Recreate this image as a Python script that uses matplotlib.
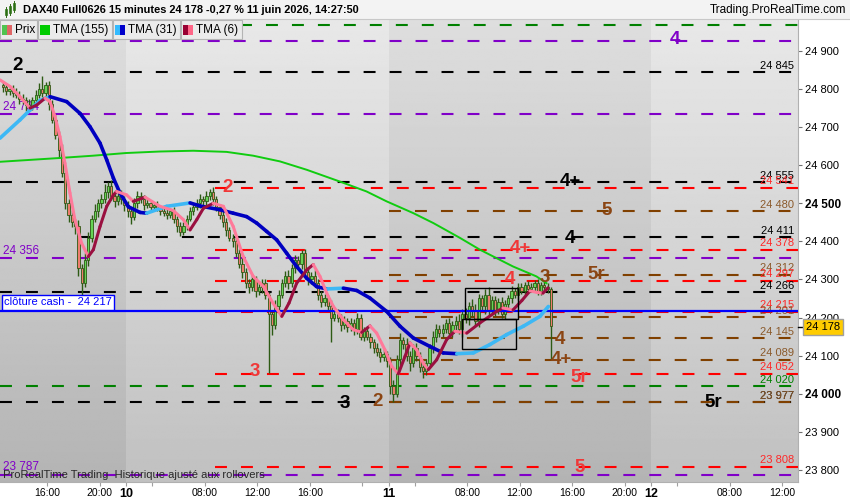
import numpy as np
import matplotlib
matplotlib.use('Agg')
import matplotlib.pyplot as plt
from matplotlib.patches import Rectangle
from matplotlib.collections import LineCollection

plt.rcParams['font.family'] = ['Liberation Sans', 'DejaVu Sans']
plt.rcParams['lines.scale_dashes'] = False

# session time in hours: 0 = 10 juin 02:00, one session = 02:00-22:00 (20 h)
first_bar = -9.5      # 9 juin 12:30
first_open = 24810

# 15 minute closes
closes = [
    24805, 24795,                                   # 9 juin 12:30
    24800, 24790, 24785, 24775,  24770, 24758, 24755, 24770,
    24785, 24800, 24790, 24810,  24760, 24720, 24680, 24640,
    24580, 24500, 24470, 24450,  24440, 24330, 24290, 24350,
    24410, 24460, 24480, 24500,  24510, 24530, 24545, 24520,
    24505, 24520, 24510, 24495,
    # 10 juin
    24480, 24465, 24500, 24520,  24510, 24495, 24500, 24490,
    24495, 24485, 24480, 24475,  24470, 24480, 24460, 24440,
    24425, 24440, 24460, 24480,  24490, 24500, 24510, 24505,
    24520, 24530, 24510, 24490,  24470, 24450, 24430, 24410,
    24400, 24370, 24340, 24320,  24290, 24280, 24300, 24270,
    24280, 24290, 24260, 24210,  24180, 24230, 24260, 24290,
    24310, 24290, 24330, 24350,  24340, 24370, 24320, 24300,
    24310, 24290, 24260, 24240,  24250, 24230, 24200, 24210,
    24200, 24180, 24190, 24175,  24185, 24170, 24200, 24150,
    24165, 24150, 24135, 24120,  24110, 24095, 24105, 24085,
    # 11 juin
    24020, 24000, 24090, 24140,  24130, 24100, 24080, 24120,
    24100, 24070, 24060, 24080,  24120, 24150, 24170, 24160,
    24170, 24185, 24160, 24180,  24190, 24170, 24210, 24200,
    24230, 24220, 24190, 24250,  24230, 24260, 24220, 24245,
    24220, 24240, 24210, 24235,  24250, 24270, 24260, 24280,
    24270, 24285, 24275, 24280,  24290, 24270, 24285, 24280,
    24275, 24178,
]
wick_hi = [
    10, 12,
    8, 10, 12, 10,  12, 10, 15, 10,  12, 15, 35, 8,  10, 12, 15, 10,
    15, 20, 10, 12,  10, 15, 10, 20,  15, 10, 18, 12,  15, 20, 12, 15,
    10, 12, 15, 10,
    12, 10, 15, 12,  10, 12, 10, 8,  8, 10, 6, 8,  10, 8, 10, 6,
    10, 12, 8, 10,  10, 12, 15, 10,  12, 8, 12, 10,  8, 10, 12, 8,
    10, 12, 10, 15,  10, 12, 15, 10,  15, 10, 12, 8,  10, 15, 12, 10,
    12, 15, 10, 15,  12, 8, 10, 12,  10, 15, 12, 10,  12, 10, 15, 10,
    12, 10, 15, 8,  15, 10, 12, 10,  10, 12, 10, 8,  12, 10, 15, 8,
    10, 15, 12, 20,  10, 15, 12, 10,  12, 10, 15, 12,  10, 15, 12, 10,
    12, 10, 15, 12,  15, 20, 12, 15,  12, 18, 15, 12,  10, 15, 20, 12,
    12, 10, 15, 10,  10, 12, 8, 10,  10, 8, 12, 10,  8, 10, 8, 12,
    10, 5,
]
wick_lo = [
    12, 10,
    10, 12, 8, 15,  10, 15, 12, 10,  10, 8, 12, 10,  15, 10, 12, 20,
    10, 15, 20, 12,  20, 20, 30, 10,  15, 12, 10, 15,  12, 10, 15, 12,
    15, 10, 12, 15,
    15, 20, 10, 12,  10, 12, 8, 10,  8, 6, 10, 8,  10, 8, 12, 15,
    12, 8, 10, 6,  10, 8, 12, 10,  10, 12, 15, 10,  10, 12, 15, 10,
    15, 12, 10, 15,  12, 15, 10, 15,  10, 15, 12, 155,  25, 10, 12, 8,
    10, 15, 10, 12,  10, 12, 10, 15,  12, 10, 15, 12,  10, 12, 64, 10,
    12, 15, 10, 12,  10, 15, 12, 10,  12, 10, 15, 12,  10, 12, 10, 15,
    20, 23, 10, 15,  12, 15, 20, 10,  15, 12, 20, 10,  10, 12, 15, 10,
    12, 10, 15, 12,  15, 12, 20, 15,  20, 15, 12, 15,  12, 20, 15, 10,
    15, 10, 12, 15,  10, 12, 10, 15,  8, 12, 10, 8,  10, 12, 10, 8,
    10, 88,
]

# triangular moving averages
tma155_t = [-9.6, -7.31, -5.03, -2.51, 0.0, 2.59, 5.13, 7.66, 9.69, 11.73, 13.77, 16.3,
            18.33, 19.86, 21.9, 23.42, 25.45, 26.97, 29.49, 31.27, 32.04]
tma155_v = [24609, 24614, 24619, 24625, 24632, 24636, 24638, 24635, 24625, 24610, 24588, 24557,
            24531, 24505, 24474, 24448, 24409, 24378, 24334, 24308, 24290]

tma31_t = [-9.6, -8.08, -7.31, -6.55, -5.79, -4.52, -3.5, -2.74, -1.98, -1.47, -0.96, -0.46,
           0.18, 1.07, 1.57, 3.1, 4.88, 5.64, 7.16, 8.17, 9.19, 9.96, 10.72, 11.48, 12.24,
           13.0, 13.77, 14.53, 15.29, 16.56, 17.58, 18.59, 19.86, 20.88, 21.9, 23.16, 24.17,
           25.2, 26.46, 27.73, 29.0, 30.27, 31.54, 32.18]
tma31_v = [24671, 24719, 24745, 24770, 24780, 24767, 24736, 24701, 24658, 24614, 24566, 24527,
           24491, 24476, 24474, 24492, 24501, 24493, 24483, 24474, 24465, 24448, 24426, 24404, 24369,
           24334, 24303, 24281, 24275, 24277, 24271, 24251, 24216, 24177, 24146, 24124, 24107,
           24105, 24107, 24129, 24155, 24177, 24203, 24229]

tma6_t = [-9.6, -8.84, -8.08, -7.31, -6.8, -6.17, -5.79, -5.41, -5.03, -4.65, -4.27, -3.89,
          -3.38, -2.87, -2.49, -1.98, -1.47, -0.96, -0.71, 0.05, 0.56, 1.45, 2.59, 3.6, 4.37,
          4.88, 5.39, 5.9, 6.65, 7.42, 8.17, 8.93, 9.69, 10.46, 11.2, 11.87, 12.42, 13.0, 13.77,
          14.27, 14.78, 15.29, 15.8, 16.56, 17.32, 17.96, 18.59, 19.1, 19.73, 20.24, 20.75, 21.26,
          21.64, 22.15, 22.65, 23.03, 23.67, 24.43, 25.05, 25.96, 26.97, 28.24, 28.72, 29.49,
          30.17, 30.78, 31.31, 31.77, 32.15]
tma6_v = [24824, 24807, 24780, 24750, 24758, 24776, 24767, 24728, 24675, 24605, 24527, 24456,
          24395, 24360, 24378, 24439, 24492, 24522, 24531, 24522, 24505, 24516, 24492, 24481, 24457,
          24430, 24457, 24487, 24500, 24492, 24439, 24360, 24308, 24282, 24238, 24203, 24238, 24290, 24325,
          24339, 24308, 24264, 24229, 24194, 24168, 24161, 24178, 24159, 24115, 24072, 24052, 24098,
          24133, 24115, 24080, 24063, 24089, 24142, 24164, 24159, 24186, 24216, 24225, 24220,
          24245, 24270, 24266, 24264, 24278]

# horizontal levels
lvl_price = [24968, 24926, 24845, 24734, 24555, 24541, 24480, 24411, 24378, 24356, 24312, 24297,
             24266, 24215, 24201, 24145, 24089, 24052, 24020, 23977, 23977, 23808, 23787]
lvl_kind = ['green', 'purple', 'black', 'purple', 'black', 'red', 'brown', 'black', 'red', 'purple',
            'brown', 'red', 'black', 'red', 'brown', 'brown', 'brown', 'red', 'green', 'black',
            'brown', 'red', 'purple']
lvl_from = [8.7, -9.6, -9.6, -9.6, -9.6, 6.75, 20, -3.66, 6.75, -9.6, 20, 6.75,
            -9.6, 6.75, 20, 20, 20, 6.75, -9.6, -9.6, 20, 6.75, -9.6]
lvl_side = ['', '', 'R', 'L', 'R', 'R', 'R', 'R', 'R', 'L', 'R', 'R',
            'R', 'R', 'R', 'R', 'R', 'R', 'R', 'R', 'R', 'R', 'L']

big_txt = ['4', '2', '2', '4+', '5', '4', '4+', '5r', '4', '3', '4', '4+', '3', '5r', '3', '2', '5r', '5']
big_kind = ['purple', 'black', 'red', 'black', 'brown', 'black', 'red', 'brown', 'red', 'brown',
            'brown', 'brown', 'red', 'red', 'black', 'brown', 'black', 'red']
big_t = [41.83, -8.23, 7.77, 33.83, 36.65, 33.83, 30.02, 35.81, 29.26, 31.92,
         33.07, 33.14, 9.83, 34.51, 16.69, 19.2, 44.72, 34.59]
big_p = [24929, 24861, 24541, 24557, 24481, 24408, 24380, 24312, 24300, 24304,
         24142, 24091, 24058, 24042, 23974, 23979, 23976, 23806]

cash_close = 24217
last_price = 24178

box_t0 = [25.83, 25.6]
box_t1 = [29.87, 29.71]
box_lo = [24197, 24118]
box_hi = [24278, 24197]

tick_t = [-6, -2, 0, 2, 6, 10, 14, 18, 20, 22, 26, 30, 34, 38, 40, 42, 46, 50]
tick_lab = ['16:00', '20:00', '10', '', '08:00', '12:00', '16:00', '', '11', '',
            '08:00', '12:00', '16:00', '20:00', '12', '', '08:00', '12:00']

line_col = {'green': '#008000', 'purple': '#8000c8', 'black': '#000000', 'red': '#ff0000', 'brown': '#804000'}
text_col = {'green': '#008000', 'purple': '#8000c8', 'black': '#000000', 'red': '#ff2828', 'brown': '#8b5a2b'}
big_col = {'green': '#008000', 'purple': '#8000c8', 'black': '#000000', 'red': '#f03838', 'brown': '#8b4513'}

XMIN, XMAX = -9.6, 51.2
YMIN, YMAX = 23768, 24984

fig = plt.figure(figsize=(8.5, 5), dpi=100)
fig.patch.set_facecolor('white')
ax = fig.add_axes([0, 18 / 500, 798 / 850, 463 / 500])


def fx(x):
    return x / 850


def fy(y):
    return 1 - y / 500


# background: vertical gradient, alternate sessions lighter
for d, (a, b) in enumerate([(-20, 0), (0, 20), (20, 40), (40, 60)]):
    top, bot = (0.87, 0.705) if d % 2 == 0 else (0.91, 0.755)
    grad = np.linspace(top, bot, 256).reshape(-1, 1)
    ax.imshow(grad, extent=[a, b, YMIN, YMAX], aspect='auto', cmap='gray',
              vmin=0, vmax=1, zorder=0, interpolation='bilinear')

# levels
for p, k, f, s in zip(lvl_price, lvl_kind, lvl_from, lvl_side):
    ax.plot([f, XMAX], [p, p], color=line_col[k], lw=1.5, ls=(0, (8.6, 10.1)),
            solid_capstyle='butt', dash_capstyle='butt', zorder=2)
    lab = f'{p:,}'.replace(',', ' ')
    if s == 'R':
        ax.annotate(lab, (XMAX, p), xytext=(-3, 1), textcoords='offset points',
                    ha='right', va='bottom', fontsize=8, color=text_col[k], zorder=2.5)
    elif s == 'L':
        ax.annotate(lab, (XMIN, p), xytext=(2, 1), textcoords='offset points',
                    ha='left', va='bottom', fontsize=8.5, color=text_col[k], zorder=2.5)

ax.axhline(cash_close, color='#0000ff', lw=1.6, zorder=4)
ax.annotate('clôture cash -  24 217', (XMIN, cash_close), xytext=(3, 2.6), textcoords='offset points',
            ha='left', va='bottom', fontsize=8, color='#0000ff', zorder=6,
            bbox=dict(boxstyle='square,pad=0.22', fc='white', ec='#0000ff', lw=1))

# candles
c = np.array(closes, dtype=float)
o = np.concatenate([[first_open], c[:-1]])
hi = np.maximum(o, c) + np.array(wick_hi)
lo = np.minimum(o, c) - np.array(wick_lo)
tc = first_bar + 0.25 * np.arange(len(c)) + 0.125
ax.vlines(tc, lo, hi, color='#2d5a14', lw=1.0, zorder=3)
body = np.where(np.abs(c - o) < 2, 2, c - o)
ax.bar(tc, body, bottom=o, width=0.17, color=np.where(c >= o, '#66d455', '#ee7d6e'),
       edgecolor='#2d5a14', lw=0.6, zorder=3.2)


def slope_line(t, v, up, down, lw, z):
    pts = np.column_stack([t, v])
    segs = np.stack([pts[:-1], pts[1:]], axis=1)
    cols = [up if b >= a else down for a, b in zip(v[:-1], v[1:])]
    ax.add_collection(LineCollection(segs, colors=cols, linewidths=lw, capstyle='round',
                                     joinstyle='round', zorder=z))


ax.plot(tma155_t, tma155_v, color='#10cc10', lw=1.4, zorder=5)
slope_line(tma31_t, tma31_v, '#3db8f5', '#0000c0', 2.6, 5.2)
slope_line(tma6_t, tma6_v, '#9a1040', '#ff7a9a', 2.2, 5.4)

for a, b, l, h in zip(box_t0, box_t1, box_lo, box_hi):
    ax.add_patch(Rectangle((a, l), b - a, h - l, fill=False, ec='black', lw=1, zorder=6))

for s, k, t, p in zip(big_txt, big_kind, big_t, big_p):
    ax.text(t, p, s, fontsize=13.5, fontweight='bold', color=big_col[k],
            ha='center', va='center', zorder=7)

ax.text(XMIN, 23787, ' ProRealTime Trading  Historique ajusté aux rollovers', fontsize=8,
        color='#282828', ha='left', va='center', zorder=7)

ax.set_xlim(XMIN, XMAX)
ax.set_ylim(YMIN, YMAX)

# axes
ax.yaxis.tick_right()
yt = list(range(23800, 24901, 100))
ax.set_yticks(yt)
ax.set_yticklabels([f'{v:,}'.replace(',', ' ') for v in yt], fontsize=8)
for v, lab in zip(yt, ax.get_yticklabels()):
    if v in (24000, 24500):
        lab.set_fontweight('bold')
        lab.set_fontsize(8.5)
ax.set_xticks(tick_t)
ax.set_xticklabels(tick_lab, fontsize=7.5)
for lab, txt in zip(ax.get_xticklabels(), tick_lab):
    if txt in ('10', '11', '12'):
        lab.set_fontweight('bold')
        lab.set_fontsize(9)
ax.tick_params(axis='y', length=3, width=0.8, color='#707070', pad=2)
ax.tick_params(axis='x', length=3, width=0.8, color='#a0a0a0', pad=1)
for sp in ('top', 'left'):
    ax.spines[sp].set_visible(False)
for sp in ('right', 'bottom'):
    ax.spines[sp].set_color('#b0b0b0')

# current price tag
fig.add_artist(plt.Line2D([fx(798), fx(804)], [fy(326.5), fy(326.5)], color='black', lw=1))
fig.text(fx(806), fy(327), '24 178', fontsize=8, color='black', ha='left', va='center',
         bbox=dict(boxstyle='square,pad=0.25', fc='#ffcc00', ec='#a0a0a0', lw=1))

# header
fig.add_artist(Rectangle((0, fy(19)), 1, 19 / 500, transform=fig.transFigure,
                         fc='#f3f3f3', ec='none', zorder=1))
fig.add_artist(plt.Line2D([0, 1], [fy(19), fy(19)], color='#c8c8c8', lw=0.8))
for x0, y0, y1 in [(5, 9, 15), (9, 6, 13), (13, 3, 10)]:
    fig.add_artist(plt.Line2D([fx(x0 + 1), fx(x0 + 1)], [fy(y1 + 2), fy(y0 - 2)],
                              color='#2d6a14', lw=0.7))
    fig.add_artist(Rectangle((fx(x0), fy(y1)), 2 / 850, (y1 - y0) / 500, transform=fig.transFigure,
                             fc='#55c040', ec='#2d6a14', lw=0.5))
fig.text(fx(23), fy(10), 'DAX40 Full0626 15 minutes 24 178 -0,27 % 11 juin 2026, 14:27:50',
         fontsize=7.9, fontweight='bold', ha='left', va='center')
fig.text(fx(846), fy(10), 'Trading.ProRealTime.com', fontsize=8.5, ha='right', va='center')

# legend row
legend = [('Prix', 0, 37, '#4fc34f', '#e06666'), ('TMA (155)', 38, 112, '#00cc00', '#00cc00'),
          ('TMA (31)', 113, 180, '#33bbff', '#0000cc'), ('TMA (6)', 181, 242, '#990033', '#ff6688')]
for name, x0, x1, c1, c2 in legend:
    fig.add_artist(Rectangle((fx(x0), fy(39)), (x1 - x0) / 850, 19 / 500, transform=fig.transFigure,
                             fc='#ebebeb', ec='#b4b4b4', lw=0.8))
    fig.add_artist(Rectangle((fx(x0 + 2), fy(35)), 5 / 850, 10 / 500, transform=fig.transFigure,
                             fc=c1, ec='none'))
    fig.add_artist(Rectangle((fx(x0 + 7), fy(35)), 5 / 850, 10 / 500, transform=fig.transFigure,
                             fc=c2, ec='none'))
    fig.text(fx(x0 + 15), fy(30), name, fontsize=8.5, ha='left', va='center')

fig.savefig('out.png', dpi=100)
